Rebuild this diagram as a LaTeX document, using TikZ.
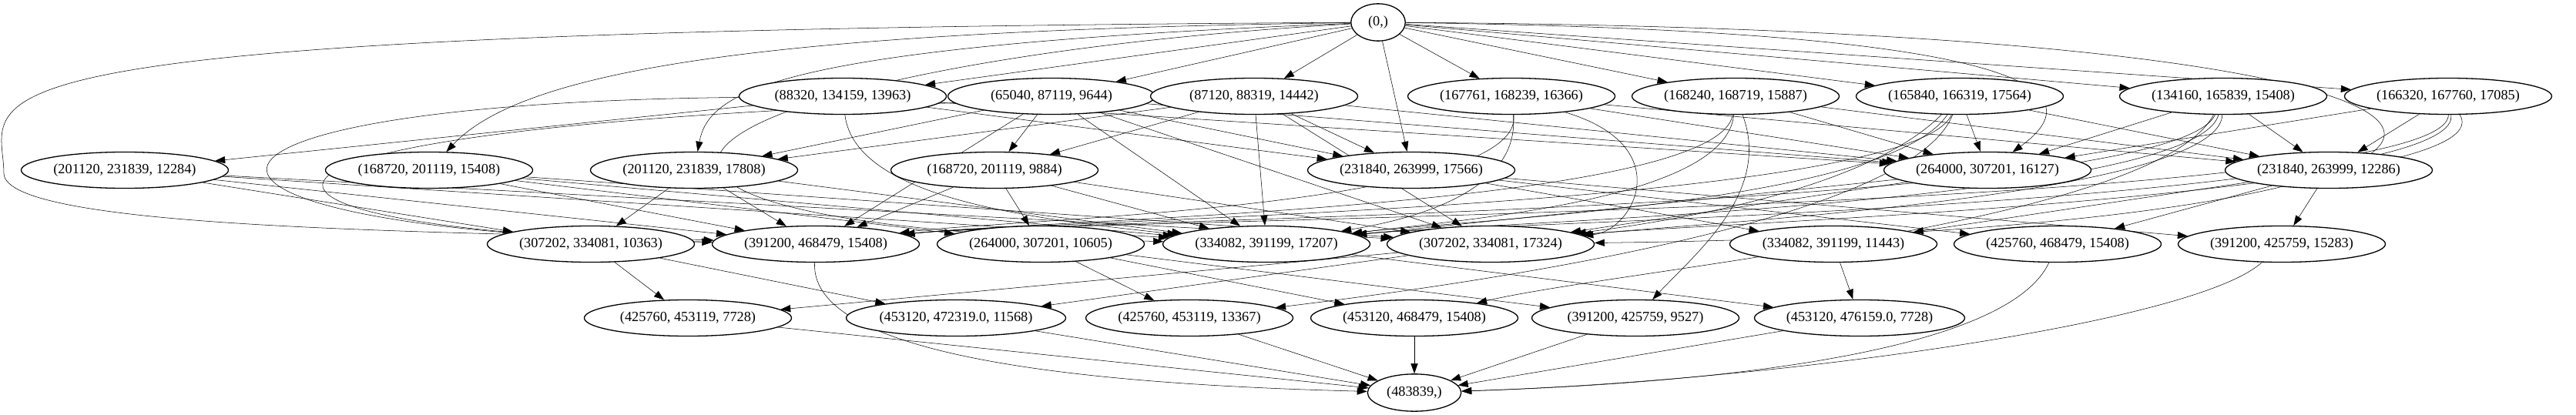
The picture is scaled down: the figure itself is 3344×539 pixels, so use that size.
\documentclass[tikz,border=0pt]{standalone}
\usepackage{fontspec}
\setmainfont{Liberation Serif}
\usetikzlibrary{shapes.geometric,arrows.meta}
\pgfdeclarelayer{background}
\pgfsetlayers{background,main}
\begin{document}
\begin{tikzpicture}[
                -> ,
                >= {Triangle[length=10pt,width=7pt]},
                line width = 1pt,
                x = 0.7657pt,
                y = -0.7657pt,
                font = \fontsize{14pt}{16pt}\selectfont
                ]

                \tikzstyle{interval}=[
                        draw = black,
                        ellipse,
                        fill = white,
                        inner sep = 1pt,
                        minimum width = 206pt,
                        minimum height = 36pt
                ]
                \tikzstyle{bound}=[
                        draw = black,
                        ellipse,
                        fill = white,
                        inner sep = 1pt,
                        minimum height = 37pt
                ]

                \useasboundingbox (0,0) rectangle (3344,539);

                \node[bound, minimum width = 54pt] (0) at (1789,29) {(0,)};

                \node[interval] (1) at (1094,125) {(88320, 134159, 13963)};
                \node[interval] (2) at (1365,125) {(65040, 87119, 9644)};
                \node[interval] (3) at (1628,125) {(87120, 88319, 14442)};
                \node[interval] (4) at (1962,125) {(167761, 168239, 16366)};
                \node[interval] (5) at (2253,125) {(168240, 168719, 15887)};
                \node[interval] (6) at (2544,125) {(165840, 166319, 17564)};
                \node[interval] (7) at (2886,125) {(134160, 165839, 15408)};
                \node[interval] (8) at (3178,125) {(166320, 167760, 17085)};

                \node[interval] (9) at (162,221) {(201120, 231839, 12284)};
                \node[interval] (10) at (557,221) {(168720, 201119, 15408)};
                \node[interval] (11) at (901,221) {(201120, 231839, 17808)};
                \node[interval] (12) at (1291,221) {(168720, 201119, 9884)};
                \node[interval] (13) at (1832,221) {(231840, 263999, 17566)};
                \node[interval] (14) at (2580,221) {(264000, 307201, 16127)};
                \node[interval] (15) at (3023,221) {(231840, 263999, 12286)};

                \node[interval] (16) at (767,317) {(307202, 334081, 10363)};
                \node[interval] (17) at (1059,317) {(391200, 468479, 15408)};
                \node[interval] (18) at (1351,317) {(264000, 307201, 10605)};
                \node[interval] (19) at (1644,317) {(334082, 391199, 17207)};
                \node[interval] (20) at (1935,317) {(307202, 334081, 17324)};
                \node[interval] (21) at (2380,317) {(334082, 391199, 11443)};
                \node[interval] (22) at (2671,317) {(425760, 468479, 15408)};
                \node[interval] (23) at (2962,317) {(391200, 425759, 15283)};

                \node[interval] (24) at (893,413) {(425760, 453119, 7728)};
                \node[interval] (25) at (1241,413) {(453120, 472319.0, 11568)};
                \node[interval] (26) at (1544,413) {(425760, 453119, 13367)};
                \node[interval] (27) at (1836,413) {(453120, 468479, 15408)};
                \node[interval] (28) at (2123,413) {(391200, 425759, 9527)};
                \node[interval] (29) at (2414,413) {(453120, 476159.0, 7728)};

                \node[bound, minimum width = 93pt] (30) at (1836,510) {(483839,)};

                \begin{pgfonlayer}{background}
                % from the start
                \draw (0) -- (1);
                \draw (0) -- (2);
                \draw (0) -- (3);
                \draw (0) -- (4);
                \draw (0) -- (5);
                \draw (0) -- (6);
                \draw (0) -- (7);
                \draw (0) -- (8);
                \draw (0) -- (13);
                \draw (0) .. controls (1000,60) and (920,120) .. (11);
                \draw (0) .. controls (1000,40) and (680,90) .. (10);
                \draw (0) .. controls (2650,40) and (2720,120) .. (14);
                \draw (0) .. controls (-150,40) and (5,120) .. (5,225)
                          .. controls (5,300) and (600,300) .. (17);
                \draw (0) .. controls (900,80) and (550,290) .. (19);
                \draw (0) .. controls (3550,40) and (3400,300) .. (20);

                % first row
                \draw (1) -- (9);
                \draw (1) .. controls (150,135) and (150,300) .. (17);
                \draw (1) .. controls (1110,260) and (1350,285) .. (19);
                \draw (1) -- (13);
                \draw (1) -- (14);
                \draw (2) -- (11);
                \draw (2) -- (12);
                \draw (2) -- (13);
                \draw (2) -- (14);
                \draw (2) -- (17);
                \draw (2) -- (19);
                \draw (2) -- (20);
                \draw (3) -- (11);
                \draw (3) -- (12);
                \draw (3) -- (13);
                \draw (3) -- (14);
                \draw (3) .. controls (150,150) and (200,300) .. (17);
                \draw (3) -- (19);
                \draw (3) -- (20);
                \draw (4) -- (14);
                \draw (4) -- (15);
                \draw (4) .. controls (1980,270) and (1300,285) .. (17);
                \draw (4) .. controls (1975,260) and (1800,290) .. (19);
                \draw (4) .. controls (2180,190) and (2120,300) .. (20);
                \draw (5) -- (14);
                \draw (5) -- (15);
                \draw (5) .. controls (2230,270) and (1350,285) .. (17);
                \draw (5) .. controls (2240,260) and (1900,285) .. (19);
                \draw (5) .. controls (2300,250) and (2200,330) .. (28);
                \draw (6) -- (14);
                \draw (6) -- (15);
                \draw (6) .. controls (2480,270) and (1350,285) .. (17);
                \draw (6) .. controls (2450,265) and (1900,285) .. (19);
                \draw (6) .. controls (2420,250) and (2150,290) .. (20);
                \draw (6) .. controls (2480,290) and (1900,370) .. (26);
                \draw (7) -- (14);
                \draw (7) -- (15);
                \draw (7) .. controls (2820,275) and (1350,285) .. (17);
                \draw (7) .. controls (2850,265) and (1900,290) .. (19);
                \draw (7) .. controls (2880,255) and (2200,290) .. (20);
                \draw (7) .. controls (2800,290) and (2100,350) .. (27);
                \draw (8) -- (14);
                \draw (8) -- (15);
                \draw (8) .. controls (3180,275) and (1350,285) .. (17);
                \draw (8) .. controls (3200,265) and (1900,290) .. (19);
                \draw (8) .. controls (3260,255) and (2200,290) .. (20);

                % second row
                \draw (9) -- (16);
                \draw (9) -- (17);
                \draw (9) -- (19);
                \draw (9) -- (20);
                \draw (10) -- (17);
                \draw (10) -- (18);
                \draw (10) -- (19);
                \draw (10) -- (20);
                \draw (11) -- (16);
                \draw (11) -- (17);
                \draw (11) -- (19);
                \draw (12) -- (17);
                \draw (12) -- (18);
                \draw (12) -- (19);
                \draw (12) -- (20);
                \draw (13) -- (21);
                \draw (13) -- (22);
                \draw (13) -- (23);
                \draw (14) -- (19);
                \draw (14) -- (20);
                \draw (15) -- (21);
                \draw (15) -- (22);
                \draw (15) -- (23);

                % third row
                \draw (16) -- (24);
                \draw (16) -- (25);
                \draw (17) .. controls (1050,470) and (1450,500) .. (30);
                \draw (18) -- (26);
                \draw (18) -- (27);
                \draw (18) -- (28);
                \draw (19) -- (29);
                \draw (20) -- (24);
                \draw (20) -- (25);
                \draw (21) -- (29);
                \draw (22) .. controls (2600,470) and (2150,500) .. (30);
                \draw (23) .. controls (2850,420) and (2300,495) .. (30);

                % to the end
                \draw (24) -- (30);
                \draw (25) -- (30);
                \draw (26) -- (30);
                \draw (27) -- (30);
                \draw (28) -- (30);
                \draw (29) -- (30);
                \end{pgfonlayer}
\end{tikzpicture}
\end{document}
